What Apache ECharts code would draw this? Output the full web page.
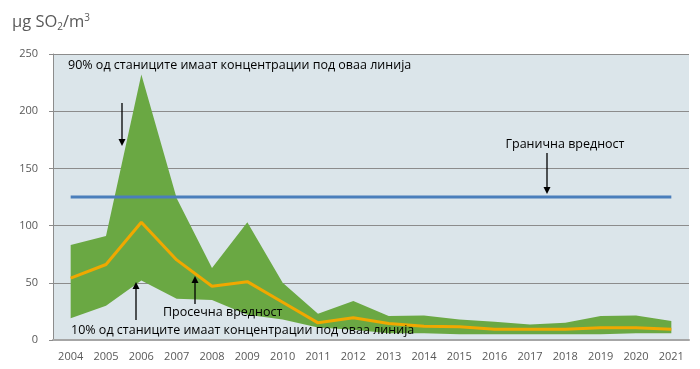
<!DOCTYPE html>
<html><head><meta charset="utf-8">
<script src="https://cdn.jsdelivr.net/npm/echarts@6/dist/echarts.min.js"></script>
<style>html,body{margin:0;padding:0;background:#fff}#c{width:700px;height:369px}</style>
</head><body><div id="c"></div>
<script>
const years = ['2004','2005','2006','2007','2008','2009','2010','2011','2012','2013','2014','2015','2016','2017','2018','2019','2020','2021'];
const p90 = [83, 91, 232, 124, 63, 103, 50, 23, 34, 21, 21.5, 18, 16, 13.5, 15, 21, 21.5, 16.5];
const p10 = [19, 30, 52, 36, 35, 22, 18, 11, 9, 6, 6, 5, 5, 5, 5, 5, 6, 6];
const mean = [54, 66, 103, 70, 47, 51, 33, 15, 19.5, 14.5, 12, 11.5, 9.5, 9.3, 9.5, 10.8, 10.8, 9.3];
const limit = years.map(() => 125);
const yTicks = [0, 50, 100, 150, 200, 250];

const FONT = 'Open Sans';
const chart = echarts.init(document.getElementById('c'), null, {renderer: 'canvas'});
const band = p90.map((v, i) => +(v - p10[i]).toFixed(2));
const txt = (x, y, s, align) => ({type: 'text', x: x, y: y, style: {text: s, fill: '#000', font: '12.5px "' + FONT + '"', textAlign: align || 'left', textVerticalAlign: 'middle'}, z: 100});
const arrow = (x, y1, y2) => {
  const dir = y2 > y1 ? 1 : -1;
  return [
    {type: 'line', shape: {x1: x, y1: y1, x2: x, y2: y2 - dir * 6}, style: {stroke: '#000', lineWidth: 1.3}, z: 100},
    {type: 'polygon', shape: {points: [[x - 3.5, y2 - dir * 7], [x + 3.5, y2 - dir * 7], [x, y2]]}, style: {fill: '#000'}, z: 100}
  ];
};
chart.setOption({
  animation: false,
  textStyle: {fontFamily: FONT},
  grid: {left: 53, right: 11, top: 54, bottom: 29, show: true, backgroundColor: '#dbe5ea', borderWidth: 0},
  xAxis: {
    type: 'category', data: years, boundaryGap: true,
    axisLine: {lineStyle: {color: '#a6a6a6', width: 2}},
    axisTick: {show: false},
    axisLabel: {color: '#595959', fontSize: 11, margin: 11}
  },
  yAxis: {
    type: 'value', min: yTicks[0], max: yTicks[yTicks.length - 1], interval: 50,
    axisLine: {show: true, lineStyle: {color: '#8c8c8c', width: 1}},
    axisTick: {show: true, length: 4, lineStyle: {color: '#8c8c8c'}},
    axisLabel: {color: '#595959', fontSize: 11, margin: 15},
    splitLine: {lineStyle: {color: '#8c8c8c', width: 1}}
  },
  series: [
    {type: 'line', data: p10, stack: 'b', symbol: 'none', lineStyle: {width: 0}, areaStyle: {opacity: 0}, z: 2},
    {type: 'line', data: band, stack: 'b', symbol: 'none', lineStyle: {width: 0}, areaStyle: {color: '#6aa843', opacity: 1}, z: 2},
    {type: 'line', data: limit, symbol: 'none', lineStyle: {color: '#4a7ebb', width: 3}, z: 3},
    {type: 'line', data: mean, symbol: 'none', lineStyle: {color: '#f0a800', width: 3}, z: 4}
  ],
  graphic: [
    {type: 'text', x: 12, y: 22, style: {rich: {n: {fontSize: 16.5, fontFamily: FONT, fill: '#595959'}, sub: {fontSize: 10, fontFamily: FONT, fill: '#595959', padding: [10, 0, 0, 0]}, sup: {fontSize: 10, fontFamily: FONT, fill: '#595959', padding: [0, 0, 8, 0]}}, text: '{n|µg SO}{sub|2}{n|/m}{sup|3}', textVerticalAlign: 'middle'}, z: 100},
    txt(68, 65, '90% од станиците имаат концентрации под оваа линија'),
    txt(565, 144, 'Гранична вредност', 'center'),
    txt(163, 312, 'Просечна вредност'),
    txt(71, 330, '10% од станиците имаат концентрации под оваа линија'),
    ...arrow(122, 103, 146),
    ...arrow(547, 153, 194),
    ...arrow(136, 320, 282),
    ...arrow(195, 304, 276)
  ]
});
</script></body></html>
